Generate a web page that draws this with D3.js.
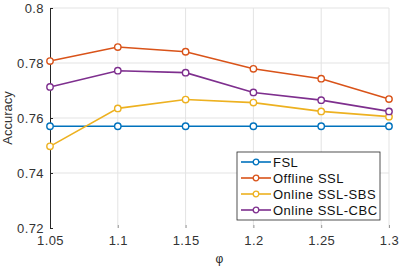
<!DOCTYPE html>
<html>
<head>
<meta charset="utf-8">
<script src="https://cdn.jsdelivr.net/npm/d3@7"></script>
<style>
  body { margin: 0; background: #fff; }
  svg { display: block; font-family: "Liberation Sans", Arial, sans-serif; }
</style>
</head>
<body>
<div id="chart"></div>
<script>
const xs = [1.05, 1.1, 1.15, 1.2, 1.25, 1.3];
const seriesNames = ["FSL", "Offline SSL", "Online SSL-SBS", "Online SSL-CBC"];
const fsl = [0.757, 0.757, 0.757, 0.757, 0.757, 0.757];
const offline = [0.7807, 0.7858, 0.7841, 0.7779, 0.7743, 0.7669];
const sbs = [0.7497, 0.7635, 0.7667, 0.7656, 0.7624, 0.7605];
const cbc = [0.7713, 0.7772, 0.7765, 0.7693, 0.7665, 0.7624];
const yTicks = [0.72, 0.74, 0.76, 0.78, 0.8];
const xTickLabels = ["1.05", "1.1", "1.15", "1.2", "1.25", "1.3"];
const colors = ["#0072BD", "#D95319", "#EDB120", "#7E2F8E"];

const width = 401, height = 266;
const margin = {top: 8, right: 12, bottom: 38, left: 50};

const svg = d3.select("#chart").append("svg")
    .attr("width", width)
    .attr("height", height);

const x = d3.scaleLinear().domain([1.05, 1.3]).range([margin.left, width - margin.right]);
const y = d3.scaleLinear().domain([0.72, 0.8]).range([height - margin.bottom, margin.top]);

// grid
svg.append("g")
    .selectAll("line")
    .data(yTicks.slice(1))
    .join("line")
    .attr("x1", margin.left).attr("x2", width - margin.right)
    .attr("y1", d => y(d)).attr("y2", d => y(d))
    .attr("stroke", "#e3e3e3").attr("stroke-width", 1);

svg.append("g")
    .selectAll("line")
    .data(xs.slice(1))
    .join("line")
    .attr("x1", d => x(d)).attr("x2", d => x(d))
    .attr("y1", margin.top).attr("y2", height - margin.bottom)
    .attr("stroke", "#e3e3e3").attr("stroke-width", 1);

// x axis (no visible baseline)
const xAxis = svg.append("g")
    .attr("transform", `translate(0,${height - margin.bottom})`)
    .call(d3.axisBottom(x).tickValues(xs).tickFormat((d, i) => xTickLabels[i]).tickSize(-3).tickPadding(8));
xAxis.select(".domain").remove();
xAxis.selectAll(".tick line").attr("stroke", "#999");
xAxis.selectAll("text").attr("font-size", 13).attr("letter-spacing", "0.4px").attr("fill", "#333");

// y axis
const yAxis = svg.append("g")
    .attr("transform", `translate(${margin.left},0)`)
    .call(d3.axisLeft(y).tickValues(yTicks).tickFormat(d3.format("")).tickSize(-3).tickPadding(6).tickSizeOuter(0));
yAxis.select(".domain").attr("stroke", "#262626");
yAxis.selectAll(".tick line").attr("stroke", "#262626");
yAxis.selectAll("text").attr("font-size", 13).attr("letter-spacing", "0.4px").attr("fill", "#333");

// labels
svg.append("text")
    .attr("transform", `translate(12,${(margin.top + height - margin.bottom) / 2}) rotate(-90)`)
    .attr("text-anchor", "middle")
    .attr("font-size", 13)
    .attr("fill", "#333")
    .text("Accuracy");

svg.append("text")
    .attr("x", (margin.left + width - margin.right) / 2)
    .attr("y", height - 3)
    .attr("text-anchor", "middle")
    .attr("font-size", 12)
    .attr("fill", "#262626")
    .text("φ");

// series
const allSeries = [fsl, offline, sbs, cbc];
const line = d3.line().x((d, i) => x(xs[i])).y(d => y(d));

allSeries.forEach((vals, k) => {
    const g = svg.append("g");
    g.append("path")
        .datum(vals)
        .attr("d", line)
        .attr("fill", "none")
        .attr("stroke", colors[k])
        .attr("stroke-width", 1.6);
    g.selectAll("circle")
        .data(vals)
        .join("circle")
        .attr("cx", (d, i) => x(xs[i]))
        .attr("cy", d => y(d))
        .attr("r", 3.2)
        .attr("fill", "#fff")
        .attr("stroke", colors[k])
        .attr("stroke-width", 1.4);
});

// legend
const lg = svg.append("g").attr("transform", "translate(237,152)");
lg.append("rect")
    .attr("width", 143).attr("height", 68)
    .attr("fill", "#fff").attr("stroke", "#262626").attr("stroke-width", 0.8);
const ly = d3.scalePoint().domain(seriesNames).range([10, 58]);
const items = lg.selectAll("g")
    .data(seriesNames)
    .join("g")
    .attr("transform", d => `translate(0,${ly(d)})`);
items.append("line")
    .attr("x1", 4).attr("x2", 34)
    .attr("stroke", (d, i) => colors[i]).attr("stroke-width", 1.6);
items.append("circle")
    .attr("cx", 19).attr("r", 2.8)
    .attr("fill", "#fff")
    .attr("stroke", (d, i) => colors[i]).attr("stroke-width", 1.3);
items.append("text")
    .attr("x", 36).attr("dy", "0.35em")
    .attr("font-size", 13)
    .attr("letter-spacing", "0.5px")
    .attr("fill", "#111")
    .text(d => d);
</script>
</body>
</html>
